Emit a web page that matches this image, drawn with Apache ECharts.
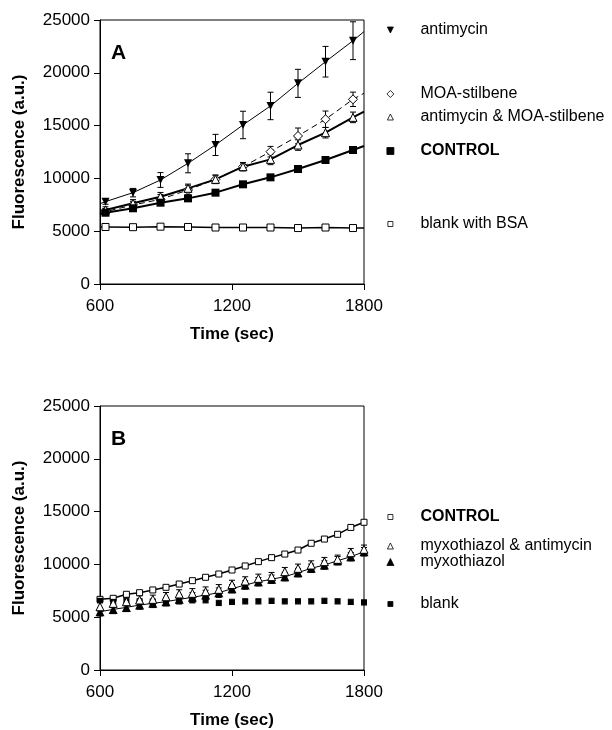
<!DOCTYPE html>
<html>
<head>
<meta charset="utf-8">
<script src="https://cdn.jsdelivr.net/npm/echarts@6/dist/echarts.min.js"></script>
<style>
html, body {margin: 0; padding: 0; background: #fff}
#main {width: 612px; height: 730px}
</style>
</head>
<body>
<div id="main"></div>
<script>
/* panel A - sampling times (sec) */
var timesA = [625, 750, 875, 1000, 1125, 1250, 1375, 1500, 1625, 1750]
var antimycin = [7800, 8650, 9850, 11430, 13170, 15060, 16860, 19000, 21050, 23040]
var antimycinErr = [250, 400, 700, 900, 1000, 1300, 1300, 1330, 1450, 1790]
var moaStilbene = [6850, 7480, 8020, 8900, 9910, 11110, 12530, 14020, 15600, 17490]
var moaStilbeneErr = [300, 350, 450, 450, 400, 400, 500, 750, 780, 680]
var antiMoa = [7010, 7640, 8270, 9060, 9910, 11110, 11800, 13160, 14330, 15780]
var antiMoaErr = [300, 350, 400, 400, 400, 350, 500, 500, 500, 500]
var controlA = [6750, 7170, 7700, 8110, 8650, 9440, 10100, 10890, 11740, 12690]
var controlAErr = [250, 250, 200, 200, 200, 200, 200, 200, 250, 300]
var blankBSA = [5400, 5380, 5430, 5400, 5350, 5350, 5350, 5300, 5350, 5300]
var blankBSAErr = [100, 100, 100, 100, 100, 100, 100, 100, 100, 100]
// trend line values at 600 s and 1800 s
var antimycinEnds = [7600, 23900]
var moaStilbeneEnds = [6700, 18060]
var antiMoaEnds = [6850, 16320]
var controlAEnds = [6600, 13070]
var blankBSAEnds = [5400, 5300]

/* panel B */
var timesB = [600, 660, 720, 780, 840, 900, 960, 1020, 1080, 1140, 1200, 1260, 1320, 1380, 1440, 1500, 1560, 1620, 1680, 1740, 1800]
var controlB = [6690, 6790, 7170, 7320, 7580, 7830, 8140, 8460, 8780, 9090, 9470, 9850, 10260, 10640, 10980, 11360, 12000, 12400, 12850, 13500, 13990]
var controlBErr = [150, 150, 150, 150, 150, 150, 150, 150, 150, 150, 150, 150, 150, 150, 150, 150, 150, 150, 150, 150, 150]
var myxoAnti = [5990, 6310, 6470, 6630, 6690, 6940, 7200, 7260, 7420, 7640, 8100, 8430, 8680, 8840, 9310, 9630, 9940, 10260, 10480, 11110, 11430]
var myxoAntiErr = [400, 400, 400, 400, 400, 400, 400, 450, 450, 450, 400, 400, 400, 400, 400, 400, 400, 400, 400, 400, 400]
var myxo = [5520, 5740, 5930, 6150, 6310, 6470, 6690, 6880, 7100, 7320, 7700, 8050, 8360, 8590, 8840, 9220, 9630, 9940, 10350, 10730, 11200]
var myxoErr = [400, 400, 400, 400, 400, 400, 400, 450, 450, 450, 400, 400, 400, 400, 400, 400, 400, 400, 400, 400, 400]
var blankB = [6600, 6500, 6550, 6500, 6450, 6550, 6500, 6600, 6600, 6350, 6450, 6500, 6500, 6550, 6500, 6500, 6500, 6550, 6500, 6450, 6400]
var blankBErr = [250, 250, 250, 250, 250, 250, 250, 250, 250, 250, 250, 250, 250, 250, 250, 250, 250, 250, 250, 250, 250]

var xTicks = [600, 1200, 1800]
var yTicks = [0, 5000, 10000, 15000, 20000, 25000]

var FONT = 'Liberation Sans'
var downTri = 'path://M0,0 L10,0 L5,10 Z'

function pairs (xs, ys) {
    var out = []
    for (var i = 0; i < xs.length; i++) out.push([xs[i], ys[i]])
    return out
}

// points plus the fitted line running to both axis ends
function withEnds (xs, ys, ends) {
    var out = [{value: [xTicks[0], ends[0]], symbol: 'none'}]
    for (var i = 0; i < xs.length; i++) out.push([xs[i], ys[i]])
    out.push({value: [xTicks[2], ends[1]], symbol: 'none'})
    return out
}

function errData (xs, ys, es) {
    var out = []
    for (var i = 0; i < xs.length; i++) out.push([xs[i], ys[i], es[i]])
    return out
}

function errorBars (params, api) {
    var x = api.value(0), y = api.value(1), e = api.value(2)
    var top = api.coord([x, y + e])
    var bot = api.coord([x, y - e])
    var w = 3
    var st = {stroke: '#000', lineWidth: 1}
    return {
        type: 'group',
        children: [
            {type: 'line', shape: {x1: top[0], y1: top[1], x2: bot[0], y2: bot[1]}, style: st},
            {type: 'line', shape: {x1: top[0] - w, y1: top[1], x2: top[0] + w, y2: top[1]}, style: st},
            {type: 'line', shape: {x1: bot[0] - w, y1: bot[1], x2: bot[0] + w, y2: bot[1]}, style: st}
        ]
    }
}

function errSeries (name, idx, xs, ys, es) {
    return {
        name: name, type: 'custom', xAxisIndex: idx, yAxisIndex: idx,
        renderItem: errorBars, encode: {x: 0, y: 1}, z: 1, silent: true,
        data: errData(xs, ys, es)
    }
}

function plainNum (v) { return String(v) }

function xAxisOf (idx) {
    return {
        type: 'value', gridIndex: idx, min: 600, max: 1800, interval: 600,
        name: 'Time (sec)', nameLocation: 'middle', nameGap: 42,
        nameTextStyle: {fontSize: 17, fontWeight: 'bold', color: '#000', fontFamily: FONT},
        axisLine: {lineStyle: {color: '#000', width: 1}},
        axisTick: {length: 6, lineStyle: {color: '#000'}},
        axisLabel: {fontSize: 17, color: '#000', margin: 14, fontFamily: FONT, formatter: plainNum},
        splitLine: {show: false}
    }
}

function yAxisOf (idx) {
    return {
        type: 'value', gridIndex: idx, min: 0, max: 25000, interval: 5000,
        name: 'Fluorescence (a.u.)', nameLocation: 'middle', nameGap: 72,
        nameTextStyle: {fontSize: 17, fontWeight: 'bold', color: '#000', fontFamily: FONT},
        axisLine: {lineStyle: {color: '#000', width: 1}},
        axisTick: {length: 6, lineStyle: {color: '#000'}},
        axisLabel: {fontSize: 17, color: '#000', margin: 10, fontFamily: FONT, formatter: plainNum},
        splitLine: {show: false}
    }
}

function legendOf (name, icon, top, size, bold, label) {
    var lg = {
        data: [{name: name, icon: icon}],
        left: 390 - size / 2, top: top, itemWidth: size, itemHeight: size,
        selectedMode: false, padding: 0,
        itemStyle: {borderWidth: 0.8},
        textStyle: {fontSize: 16, color: '#000', fontFamily: FONT, fontWeight: bold ? 'bold' : 'normal', padding: [0, 0, 0, 25 - size / 2]}
    }
    if (label) lg.formatter = function () { return label }
    return lg
}

var openStyle = {color: '#fff', borderColor: '#000', borderWidth: 1}
var fillStyle = {color: '#000', borderColor: '#000', borderWidth: 0}

var option = {
    animation: false,
    backgroundColor: '#fff',
    textStyle: {fontFamily: FONT},
    title: [
        {text: 'A', left: 111, top: 43, padding: 0, textStyle: {fontSize: 21, fontWeight: 'bold', color: '#000', fontFamily: FONT}},
        {text: 'B', left: 111, top: 429, padding: 0, textStyle: {fontSize: 21, fontWeight: 'bold', color: '#000', fontFamily: FONT}}
    ],
    grid: [
        {left: 100, top: 20, width: 264, height: 264, show: true, borderColor: '#000', borderWidth: 1, backgroundColor: 'transparent'},
        {left: 100, top: 406, width: 264, height: 264, show: true, borderColor: '#000', borderWidth: 1, backgroundColor: 'transparent'}
    ],
    xAxis: [xAxisOf(0), xAxisOf(1)],
    yAxis: [yAxisOf(0), yAxisOf(1)],
    legend: [
        legendOf('antimycin', downTri, 22, 6, false),
        legendOf('MOA-stilbene', 'diamond', 86, 7, false),
        legendOf('antimycin & MOA-stilbene', 'triangle', 109, 6, false),
        legendOf('CONTROL', 'rect', 143, 7, true),
        legendOf('blank with BSA', 'rect', 216, 5, false),
        legendOf('CONTROL B', 'rect', 509, 5, true, 'CONTROL'),
        legendOf('myxothiazol & antimycin', 'triangle', 538, 6, false),
        legendOf('myxothiazol', 'triangle', 554, 7, false),
        legendOf('blank', 'rect', 596, 5, false)
    ],
    series: [
        errSeries('e1', 0, timesA, antimycin, antimycinErr),
        errSeries('e2', 0, timesA, moaStilbene, moaStilbeneErr),
        errSeries('e3', 0, timesA, antiMoa, antiMoaErr),
        errSeries('e4', 0, timesA, controlA, controlAErr),
        errSeries('e5', 0, timesA, blankBSA, blankBSAErr),
        {
            name: 'antimycin', type: 'line', xAxisIndex: 0, yAxisIndex: 0, z: 3,
            symbol: downTri, symbolSize: 8, itemStyle: fillStyle,
            lineStyle: {color: '#000', width: 1},
            data: withEnds(timesA, antimycin, antimycinEnds)
        },
        {
            name: 'MOA-stilbene', type: 'line', xAxisIndex: 0, yAxisIndex: 0, z: 3,
            symbol: 'diamond', symbolSize: 9, itemStyle: openStyle,
            lineStyle: {color: '#000', width: 1, type: [6, 4]},
            data: withEnds(timesA, moaStilbene, moaStilbeneEnds)
        },
        {
            name: 'antimycin & MOA-stilbene', type: 'line', xAxisIndex: 0, yAxisIndex: 0, z: 3,
            symbol: 'triangle', symbolSize: 8, itemStyle: openStyle,
            lineStyle: {color: '#000', width: 2},
            data: withEnds(timesA, antiMoa, antiMoaEnds)
        },
        {
            name: 'CONTROL', type: 'line', xAxisIndex: 0, yAxisIndex: 0, z: 3,
            symbol: 'rect', symbolSize: 8, itemStyle: fillStyle,
            lineStyle: {color: '#000', width: 2},
            data: withEnds(timesA, controlA, controlAEnds)
        },
        {
            name: 'blank with BSA', type: 'line', xAxisIndex: 0, yAxisIndex: 0, z: 3,
            symbol: 'rect', symbolSize: 7, itemStyle: openStyle,
            lineStyle: {color: '#000', width: 1.5},
            data: withEnds(timesA, blankBSA, blankBSAEnds)
        },
        errSeries('e6', 1, timesB, controlB, controlBErr),
        errSeries('e7', 1, timesB, myxoAnti, myxoAntiErr),
        errSeries('e8', 1, timesB, myxo, myxoErr),
        errSeries('e9', 1, timesB, blankB, blankBErr),
        {
            name: 'CONTROL B', type: 'line', xAxisIndex: 1, yAxisIndex: 1, z: 3,
            symbol: 'rect', symbolSize: 6, itemStyle: openStyle,
            lineStyle: {color: '#000', width: 1.5},
            data: pairs(timesB, controlB)
        },
        {
            name: 'myxothiazol', type: 'line', xAxisIndex: 1, yAxisIndex: 1, z: 3,
            symbol: 'triangle', symbolSize: 9, itemStyle: fillStyle,
            lineStyle: {color: '#000', width: 1},
            data: pairs(timesB, myxo)
        },
        {
            name: 'myxothiazol & antimycin', type: 'line', xAxisIndex: 1, yAxisIndex: 1, z: 4,
            symbol: 'triangle', symbolSize: 8, itemStyle: openStyle,
            lineStyle: {width: 0, opacity: 0},
            data: pairs(timesB, myxoAnti)
        },
        {
            name: 'blank', type: 'line', xAxisIndex: 1, yAxisIndex: 1, z: 3,
            symbol: 'rect', symbolSize: [6, 5], itemStyle: fillStyle,
            lineStyle: {width: 0, opacity: 0},
            data: pairs(timesB, blankB)
        }
    ]
}

var chart = echarts.init(document.getElementById('main'))
chart.setOption(option)
</script>
</body>
</html>
